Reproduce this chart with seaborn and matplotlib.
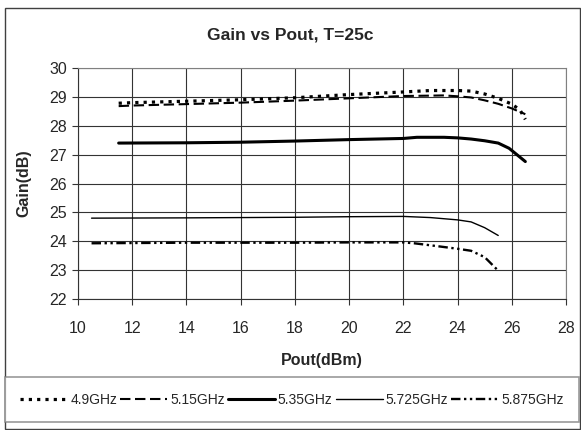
import pandas as pd
import numpy as np
import matplotlib.pyplot as plt
import matplotlib.patches as mpatches
import seaborn as sns

# Gain vs Pout curves, one array pair per frequency
pout_49 = [11.5, 12, 14, 16, 18, 20, 22, 23, 24, 24.5, 25, 25.5, 26, 26.3, 26.5]
gain_49 = [28.78, 28.8, 28.85, 28.9, 28.97, 29.08, 29.17, 29.22, 29.22, 29.2, 29.1, 28.95, 28.75, 28.55, 28.22]

pout_515 = [11.5, 12, 14, 16, 18, 20, 22, 23.5, 24, 24.5, 25, 25.5, 26, 26.5]
gain_515 = [28.68, 28.7, 28.75, 28.8, 28.87, 28.95, 29.03, 29.05, 29.02, 28.98, 28.88, 28.76, 28.6, 28.4]

pout_535 = [11.5, 14, 16, 18, 20, 22, 22.5, 23.5, 24, 24.5, 25, 25.5, 25.9, 26.5]
gain_535 = [27.4, 27.41, 27.43, 27.47, 27.52, 27.56, 27.6, 27.6, 27.58, 27.54, 27.48, 27.4, 27.22, 26.76]

pout_5725 = [10.5, 14, 18, 20, 22, 23, 24, 24.5, 25, 25.5]
gain_5725 = [24.8, 24.81, 24.83, 24.85, 24.86, 24.82, 24.74, 24.67, 24.47, 24.2]

pout_5875 = [10.5, 14, 18, 20, 22, 22.4, 23, 24, 24.5, 25, 25.5]
gain_5875 = [23.93, 23.95, 23.95, 23.96, 23.96, 23.93, 23.86, 23.74, 23.67, 23.45, 22.98]

freqs = ["4.9GHz", "5.15GHz", "5.35GHz", "5.725GHz", "5.875GHz"]
x_ticks = [10, 12, 14, 16, 18, 20, 22, 24, 26, 28]
y_ticks = [22, 23, 24, 25, 26, 27, 28, 29, 30]

parts = []
for f, xs, ys in zip(freqs,
                     [pout_49, pout_515, pout_535, pout_5725, pout_5875],
                     [gain_49, gain_515, gain_535, gain_5725, gain_5875]):
    parts.append(pd.DataFrame({"Pout": xs, "Gain": ys, "Freq": f}))
df = pd.concat(parts, ignore_index=True)

dash_map = {"4.9GHz": (1, 1.6), "5.15GHz": (5, 2.2), "5.35GHz": "",
            "5.725GHz": "", "5.875GHz": (4, 1.5, 1, 1.5, 1, 1.5)}
width_map = {"4.9GHz": 2.3, "5.15GHz": 1.5, "5.35GHz": 2.2,
             "5.725GHz": 1.0, "5.875GHz": 1.7}

sns.set_style("white")
plt.rcParams["font.family"] = ["Liberation Sans", "DejaVu Sans"]

W, H = 581, 430
fig = plt.figure(figsize=(W / 100, H / 100), dpi=100)
ax = fig.add_axes([78 / W, 1 - 299 / H, (566 - 78) / W, (299 - 68) / H])

sns.lineplot(data=df, x="Pout", y="Gain", style="Freq", size="Freq",
             dashes=dash_map, sizes=width_map, color="black",
             sort=False, legend=False, ax=ax)

ax.set_xlim(10, 28)
ax.set_ylim(22, 30)
ax.set_xticks(x_ticks)
ax.set_yticks(y_ticks)
ax.grid(True, color="#333333", linewidth=0.8)
ax.tick_params(axis="both", direction="out", length=4, width=0.8,
               color="#333333", labelsize=11.5, left=True, bottom=True)
ax.tick_params(axis="x", pad=12)
ax.tick_params(axis="y", pad=4)
for side in ["top", "right"]:
    ax.spines[side].set_color("#808080")
for side in ["left", "bottom"]:
    ax.spines[side].set_color("#333333")
ax.set_xlabel("Pout(dBm)", fontsize=11.5, fontweight="bold", labelpad=12)
ax.set_ylabel("Gain(dB)", fontsize=11.5, fontweight="bold", labelpad=13)

fig.text(0.5, 1 - 35 / H, "Gain vs Pout, T=25c", ha="center", va="center",
         fontsize=12.5, fontweight="bold")

leg = fig.legend(ax.get_lines(), freqs, ncols=5, loc="center",
                 bbox_to_anchor=(5 / W, 7 / H, 574 / W, 47 / H), mode="expand",
                 fontsize=10, handlelength=3.4, handletextpad=0.2,
                 borderpad=1.1, fancybox=False, edgecolor="#808080",
                 borderaxespad=0)
leg.get_frame().set_linewidth(1.2)

# outer chart frame
fig.patches.append(mpatches.Rectangle((5 / W, 1 / H), 575 / W, 421 / H,
                                      transform=fig.transFigure, fill=False,
                                      edgecolor="#404040", linewidth=1.0))

fig.savefig("out.png", dpi=100)
